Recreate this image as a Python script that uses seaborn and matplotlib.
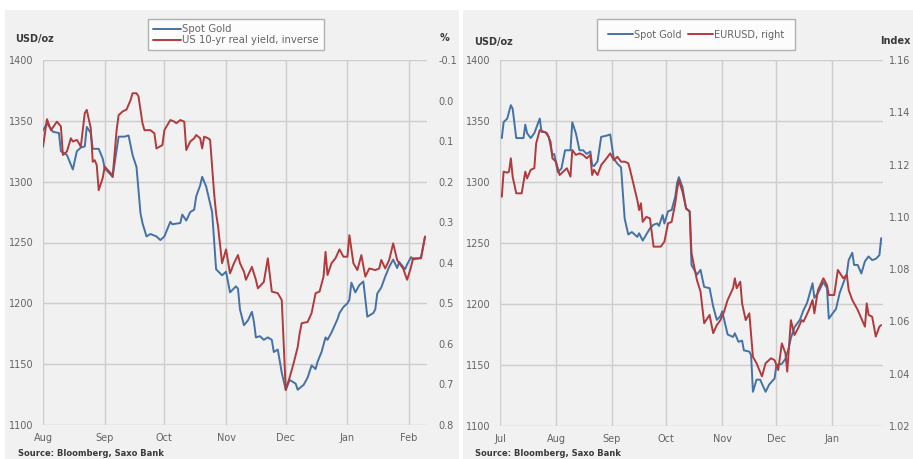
import pandas as pd
import numpy as np
import matplotlib
matplotlib.use("Agg")
import matplotlib.pyplot as plt
from matplotlib.patches import Rectangle
from matplotlib.lines import Line2D
import seaborn as sns

# ---- left chart: gold vs US 10y real yield (inverted), days since 2016-08-01
gold_l_days = [0, 2, 5, 8, 9, 12, 15, 17, 19, 21, 22, 24, 25, 28, 30, 31, 35, 38, 41, 43,
               45, 47, 49, 50, 52, 54, 57, 59, 61, 64, 65, 69, 70, 72, 74, 76, 77, 79, 80, 82,
               84, 85, 87, 90, 92, 94, 97, 98, 99, 101, 103, 105, 106, 107, 109, 111, 113, 115, 116, 118,
               120, 122, 124, 127, 128, 131, 133, 135, 137, 138, 140, 142, 143, 145, 148, 149, 151, 153, 154, 155,
               157, 159, 161, 163, 166, 167, 168, 170, 172, 174, 176, 178, 179, 182, 183, 185, 186, 189, 190, 192]
gold_l = [1342, 1348, 1341, 1340, 1325, 1322, 1310, 1325, 1328, 1329, 1345, 1340, 1327, 1327, 1319, 1311, 1304, 1337, 1337, 1338,
          1322, 1312, 1274, 1266, 1255, 1257, 1255, 1252, 1255, 1267, 1265, 1266, 1273, 1268, 1275, 1277, 1288, 1297, 1304, 1296,
          1282, 1275, 1228, 1223, 1226, 1209, 1214, 1212, 1195, 1182, 1186, 1193, 1185, 1172, 1173, 1170, 1172, 1170, 1160, 1162,
          1143, 1129, 1137, 1134, 1129, 1133, 1139, 1149, 1146, 1152, 1160, 1172, 1170, 1176, 1187, 1192, 1197, 1200, 1203, 1217,
          1209, 1215, 1218, 1189, 1192, 1195, 1208, 1213, 1222, 1230, 1236, 1229, 1234, 1228, 1232, 1238, 1236, 1237, 1238, 1255]

yield_days = [0, 2, 4, 7, 9, 10, 12, 14, 15, 17, 18, 19, 21, 22, 24, 25, 26, 27, 28, 30,
              31, 34, 35, 37, 38, 40, 42, 44, 45, 47, 48, 50, 51, 54, 56, 57, 60, 61, 64, 66,
              67, 69, 71, 72, 74, 76, 77, 79, 80, 81, 83, 84, 86, 87, 88, 90, 92, 94, 96, 98,
              99, 101, 102, 105, 107, 108, 111, 113, 115, 118, 120, 122, 124, 126, 128, 129, 130, 133, 135, 137,
              139, 141, 142, 143, 145, 147, 149, 151, 153, 154, 156, 158, 160, 162, 164, 167, 169, 170, 172, 174,
              176, 178, 179, 181, 183, 185, 186, 190, 192]
real_yield = [0.114, 0.046, 0.073, 0.052, 0.064, 0.134, 0.126, 0.093, 0.101, 0.097, 0.105, 0.114, 0.031, 0.023, 0.068, 0.151, 0.147, 0.159, 0.221, 0.191,
              0.163, 0.179, 0.188, 0.073, 0.036, 0.027, 0.022, -0.001, -0.018, -0.018, -0.010, 0.056, 0.073, 0.073, 0.081, 0.118, 0.110, 0.073, 0.048, 0.052,
              0.056, 0.048, 0.052, 0.122, 0.101, 0.093, 0.085, 0.093, 0.118, 0.089, 0.093, 0.097, 0.229, 0.278, 0.311, 0.401, 0.367, 0.426, 0.401, 0.381,
              0.401, 0.422, 0.442, 0.410, 0.442, 0.463, 0.447, 0.389, 0.471, 0.475, 0.492, 0.714, 0.682, 0.647, 0.608, 0.574, 0.549, 0.546, 0.524, 0.475,
              0.471, 0.434, 0.373, 0.430, 0.401, 0.389, 0.367, 0.385, 0.385, 0.332, 0.401, 0.418, 0.381, 0.434, 0.414, 0.418, 0.414, 0.393, 0.414, 0.393,
              0.352, 0.393, 0.401, 0.414, 0.442, 0.410, 0.389, 0.389, 0.336]

# ---- right chart: gold vs EURUSD, days since 2016-07-01
gold_r_days = [1, 2, 4, 6, 7, 9, 11, 13, 14, 15, 17, 19, 22, 23, 25, 27, 29, 30, 32, 34,
               36, 39, 40, 42, 44, 46, 48, 50, 51, 52, 54, 56, 59, 61, 63, 65, 67, 69, 71, 73,
               76, 77, 79, 81, 83, 85, 87, 88, 90, 91, 93, 95, 97, 98, 99, 101, 103, 105, 106, 109,
               111, 113, 116, 118, 120, 122, 123, 126, 129, 130, 132, 134, 135, 138, 139, 140, 142, 144, 147, 149,
               152, 153, 156, 158, 160, 161, 163, 166, 168, 170, 173, 174, 176, 179, 181, 182, 184, 186, 188, 190,
               192, 193, 195, 196, 198, 200, 202, 204, 206, 208, 210, 211]
gold_r = [1336, 1349, 1352, 1363, 1360, 1336, 1336, 1336, 1347, 1340, 1336, 1340, 1352, 1341, 1341, 1337, 1322, 1323, 1308, 1311,
          1326, 1326, 1349, 1340, 1326, 1326, 1323, 1325, 1314, 1313, 1317, 1337, 1338, 1339, 1319, 1315, 1312, 1270, 1257, 1259,
          1255, 1258, 1252, 1257, 1262, 1265, 1266, 1264, 1273, 1266, 1276, 1277, 1288, 1299, 1304, 1296, 1278, 1276, 1232, 1224,
          1228, 1214, 1213, 1198, 1187, 1190, 1194, 1175, 1173, 1176, 1169, 1170, 1162, 1161, 1158, 1128, 1138, 1138, 1128, 1134,
          1139, 1150, 1151, 1155, 1165, 1172, 1181, 1187, 1195, 1201, 1217, 1205, 1209, 1218, 1213, 1188, 1192, 1196, 1209, 1217,
          1225, 1236, 1242, 1232, 1232, 1225, 1235, 1239, 1236, 1237, 1240, 1254]

eur_days = [1, 2, 4, 5, 6, 7, 9, 11, 12, 14, 15, 17, 19, 20, 22, 24, 26, 28, 29, 31,
            33, 35, 37, 39, 40, 42, 44, 46, 48, 50, 51, 52, 54, 56, 59, 61, 63, 65, 67, 69,
            71, 72, 74, 76, 77, 78, 79, 81, 83, 85, 88, 89, 91, 93, 95, 97, 98, 99, 101, 103,
            105, 106, 109, 111, 113, 116, 118, 120, 122, 124, 126, 129, 130, 131, 133, 134, 136, 138, 140, 142,
            145, 147, 150, 152, 154, 156, 158, 159, 161, 163, 165, 167, 168, 171, 173, 174, 176, 179, 181, 182,
            185, 187, 190, 192, 193, 195, 198, 200, 202, 203, 204, 206, 208, 210, 211]
eurusd = [1.1077, 1.1173, 1.1169, 1.1173, 1.1224, 1.1154, 1.1090, 1.1090, 1.1090, 1.1173, 1.1147, 1.1180, 1.1186, 1.1281, 1.1332, 1.1326, 1.1320, 1.1287, 1.1224, 1.1211,
          1.1160, 1.1173, 1.1186, 1.1154, 1.1256, 1.1237, 1.1243, 1.1237, 1.1224, 1.1237, 1.1160, 1.1180, 1.1160, 1.1198, 1.1224, 1.1243, 1.1217, 1.1230, 1.1211, 1.1211,
          1.1205, 1.1180, 1.1122, 1.1064, 1.1026, 1.1052, 1.0981, 1.1000, 1.0994, 1.0886, 1.0886, 1.0886, 1.0905, 1.0975, 1.0981, 1.1052, 1.1103, 1.1141, 1.1096, 1.1033,
          1.1020, 1.0861, 1.0758, 1.0714, 1.0593, 1.0625, 1.0555, 1.0586, 1.0605, 1.0637, 1.0682, 1.0727, 1.0765, 1.0727, 1.0752, 1.0669, 1.0605, 1.0631, 1.0465, 1.0440,
          1.0390, 1.0440, 1.0459, 1.0452, 1.0414, 1.0516, 1.0478, 1.0408, 1.0605, 1.0548, 1.0574, 1.0605, 1.0599, 1.0644, 1.0682, 1.0631, 1.0720, 1.0765, 1.0739, 1.0701,
          1.0701, 1.0797, 1.0765, 1.0778, 1.0720, 1.0682, 1.0644, 1.0612, 1.0580, 1.0669, 1.0625, 1.0618, 1.0542, 1.0580, 1.0586]

left_months = ['Aug', 'Sep', 'Oct', 'Nov', 'Dec', 'Jan', 'Feb']
right_months = ['Jul', 'Aug', 'Sep', 'Oct', 'Nov', 'Dec', 'Jan']

BLUE = '#4472a6'
RED = '#b03a3c'
PANEL = '#f1f1f1'
GRID = '#cdcdcd'
TICK = '#646464'
DARK = '#3a3a3a'
W, H = 913, 459


def to_dates(start, days):
    return pd.Timestamp(start) + pd.to_timedelta(days, unit='D')


sns.set_style("white")
plt.rcParams['font.family'] = ['DejaVu Sans']

fig = plt.figure(figsize=(W / 100, H / 100), dpi=100, facecolor='white')
fig.patches.append(Rectangle((5 / W, 0), 454 / W, 449 / H, transform=fig.transFigure,
                             facecolor=PANEL, edgecolor='none', zorder=-5))
fig.patches.append(Rectangle((463 / W, 0), 450 / W, 449 / H, transform=fig.transFigure,
                             facecolor=PANEL, edgecolor='none', zorder=-5))


def setup(ax, start, span, months, ylim):
    ax.patch.set_alpha(0)
    for s in ax.spines.values():
        s.set_visible(False)
    t0 = pd.Timestamp(start)
    ticks = pd.date_range(t0, periods=len(months), freq='MS')
    ax.set_xlim(t0, t0 + pd.Timedelta(days=span))
    ax.set_xticks(ticks)
    ax.set_xticklabels(months)
    ax.set_ylim(*ylim)
    ax.set_yticks(np.arange(ylim[0], ylim[1] + 1, 50))
    ax.grid(True, color=GRID, lw=1.0)
    ax.set_axisbelow(True)
    ax.tick_params(axis='both', length=0, labelsize=7, labelcolor=TICK)
    ax.tick_params(axis='y', pad=7)
    ax.tick_params(axis='x', pad=6)
    ax.set_xlabel('')
    ax.set_ylabel('')


def setup_twin(ax2, ylim, ticks, fmt, pad):
    ax2.patch.set_alpha(0)
    for s in ax2.spines.values():
        s.set_visible(False)
    ax2.set_ylim(*ylim)
    ax2.set_yticks(ticks)
    ax2.set_yticklabels([fmt.format(t) for t in ticks])
    ax2.grid(False)
    ax2.tick_params(axis='y', length=0, labelsize=7, labelcolor=TICK, pad=pad)
    ax2.set_ylabel('')


# ---- left panel
ax = fig.add_axes([43 / W, 1 - 425 / H, 384 / W, 365 / H])
df_g = pd.DataFrame({'date': to_dates('2016-08-01', gold_l_days), 'v': gold_l})
df_y = pd.DataFrame({'date': to_dates('2016-08-01', yield_days), 'v': real_yield})
sns.lineplot(data=df_g, x='date', y='v', ax=ax, color=BLUE, lw=1.4)
setup(ax, '2016-08-01', 193, left_months, (1100, 1400))
ax2 = ax.twinx()
sns.lineplot(data=df_y, x='date', y='v', ax=ax2, color=RED, lw=1.4)
setup_twin(ax2, (0.8, -0.1), np.round(np.arange(-0.1, 0.81, 0.1), 1), '{:.1f}', 8)

fig.legend([Line2D([], [], color=BLUE, lw=1.4), Line2D([], [], color=RED, lw=1.4)],
           ['Spot Gold', 'US 10-yr real yield, inverse'],
           loc='upper center', bbox_to_anchor=(236 / W, 1 - 19 / H), ncol=1,
           fontsize=7.3, frameon=True, fancybox=False, edgecolor='#a0a0a0',
           handlelength=2.8, handletextpad=0.1, borderpad=0.5, labelspacing=0.1,
           borderaxespad=0, labelcolor=TICK)

fig.text(15 / W, 1 - 39 / H, 'USD/oz', fontsize=7, fontweight='bold', color=DARK, va='center')
fig.text(444 / W, 1 - 38 / H, '%', fontsize=7, fontweight='bold', color=DARK, va='center', ha='center')
fig.text(18 / W, 1 - 453 / H, 'Source: Bloomberg, Saxo Bank', fontsize=6, fontweight='bold', color=DARK, va='center')

# ---- right panel
bx = fig.add_axes([500 / W, 1 - 426 / H, 383 / W, 366 / H])
df_g2 = pd.DataFrame({'date': to_dates('2016-07-01', gold_r_days), 'v': gold_r})
df_e = pd.DataFrame({'date': to_dates('2016-07-01', eur_days), 'v': eurusd})
sns.lineplot(data=df_g2, x='date', y='v', ax=bx, color=BLUE, lw=1.4)
setup(bx, '2016-07-01', 212, right_months, (1100, 1400))
bx2 = bx.twinx()
sns.lineplot(data=df_e, x='date', y='v', ax=bx2, color=RED, lw=1.4)
setup_twin(bx2, (1.02, 1.16), np.round(np.arange(1.02, 1.161, 0.02), 2), '{:.2f}', 4)

fig.legend([Line2D([], [], color=BLUE, lw=1.4), Line2D([], [], color=RED, lw=1.4)],
           ['Spot Gold', 'EURUSD, right'],
           loc='upper center', bbox_to_anchor=(696 / W, 1 - 19 / H), ncol=2,
           fontsize=7, frameon=True, fancybox=False, edgecolor='#a0a0a0',
           handlelength=2.6, handletextpad=0.1, borderpad=1.1, columnspacing=0.6,
           borderaxespad=0, labelcolor=TICK)

fig.text(474 / W, 1 - 42 / H, 'USD/oz', fontsize=7, fontweight='bold', color=DARK, va='center')
fig.text(910 / W, 1 - 41 / H, 'Index', fontsize=7, fontweight='bold', color=DARK, va='center', ha='right')
fig.text(475 / W, 1 - 453 / H, 'Source: Bloomberg, Saxo Bank', fontsize=6, fontweight='bold', color=DARK, va='center')

fig.savefig('out.png', dpi=100, facecolor='white')
